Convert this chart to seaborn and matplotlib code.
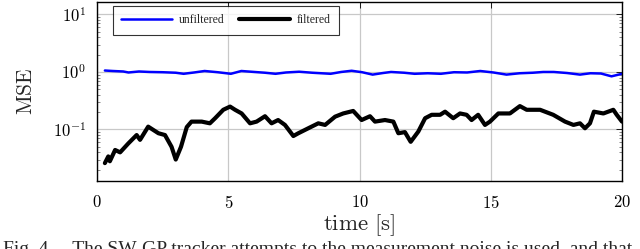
import numpy as np
import pandas as pd
import seaborn as sns
import matplotlib
matplotlib.use("Agg")
import matplotlib.pyplot as plt
from matplotlib.ticker import FixedLocator, LogLocator, NullFormatter, FuncFormatter

# ---- data ----
t_unf = [0.3, 0.6, 1.0, 1.2, 1.6, 2.0, 2.5, 3.0, 3.3, 3.7, 4.1, 4.6, 5.1, 5.5, 6.0, 6.4,
         6.8, 7.2, 7.7, 8.2, 8.9, 9.3, 9.7, 10.1, 10.5, 10.9, 11.2, 11.7, 12.1, 12.6, 13.1,
         13.6, 14.1, 14.6, 15.1, 15.6, 16.1, 16.6, 17.0, 17.4, 17.9, 18.4, 18.8, 19.2, 19.6, 20.0]
mse_unf = [1.06, 1.04, 1.02, 0.98, 1.02, 1.00, 0.99, 0.97, 0.93, 0.98, 1.04, 0.99, 0.93, 1.04,
           1.00, 0.97, 0.93, 0.98, 1.01, 0.97, 0.93, 1.00, 1.05, 0.99, 0.90, 0.96, 1.00, 0.97,
           0.93, 0.95, 0.93, 0.99, 0.98, 1.04, 0.98, 0.90, 0.95, 0.97, 1.00, 1.00, 0.96, 0.90,
           0.95, 0.94, 0.84, 0.93]

t_filt = [0.30, 0.43, 0.49, 0.69, 0.88, 1.19, 1.51, 1.64, 1.95, 2.34, 2.59, 2.84, 3.00, 3.20,
          3.42, 3.60, 3.99, 4.30, 4.50, 4.81, 5.07, 5.26, 5.51, 5.83, 6.08, 6.40, 6.65, 6.90,
          7.16, 7.48, 7.67, 8.05, 8.43, 8.69, 9.07, 9.38, 9.76, 10.08, 10.40, 10.59, 10.97,
          11.29, 11.48, 11.73, 11.95, 12.24, 12.50, 12.75, 13.07, 13.26, 13.57, 13.83, 14.08,
          14.27, 14.52, 14.78, 14.97, 15.29, 15.73, 16.11, 16.37, 16.88, 17.38, 17.83, 18.15,
          18.40, 18.59, 18.78, 18.93, 19.29, 19.67, 19.80, 20.00]
mse_filt = [0.026, 0.034, 0.028, 0.044, 0.040, 0.057, 0.080, 0.066, 0.112, 0.086, 0.080, 0.050,
            0.030, 0.050, 0.110, 0.137, 0.137, 0.128, 0.157, 0.220, 0.250, 0.220, 0.190, 0.128,
            0.137, 0.170, 0.128, 0.146, 0.120, 0.077, 0.086, 0.105, 0.128, 0.120, 0.167, 0.190,
            0.210, 0.146, 0.170, 0.137, 0.146, 0.137, 0.086, 0.090, 0.061, 0.092, 0.157, 0.180,
            0.180, 0.204, 0.157, 0.190, 0.180, 0.146, 0.180, 0.120, 0.137, 0.190, 0.190, 0.255,
            0.220, 0.220, 0.180, 0.137, 0.120, 0.128, 0.105, 0.128, 0.204, 0.190, 0.220, 0.180,
            0.137]

x_ticks = [0, 5, 10, 15, 20]
y_ticks = [0.1, 1, 10]
series_names = ["unfiltered", "filtered"]
caption = "Fig. 4.    The SW-GP tracker attempts to the measurement noise is used, and that"

# ---- plotting ----
sns.set_theme(style="white")
plt.rcParams["mathtext.fontset"] = "cm"
plt.rcParams["font.family"] = ["Liberation Serif", "DejaVu Serif"]

df = pd.concat([
    pd.DataFrame({"t": t_unf, "mse": mse_unf, "series": series_names[0]}),
    pd.DataFrame({"t": t_filt, "mse": mse_filt, "series": series_names[1]}),
])

fig = plt.figure(figsize=(6.4, 2.49), dpi=100)
ax = fig.add_axes([97 / 640, 1 - 181 / 249, 525 / 640, 179 / 249])

sns.lineplot(data=df[df.series == "unfiltered"], x="t", y="mse", color="#0000ff",
             lw=1.8, ax=ax, label="unfiltered", estimator=None, sort=False)
sns.lineplot(data=df[df.series == "filtered"], x="t", y="mse", color="black",
             lw=3.0, ax=ax, label="filtered", estimator=None, sort=False)

ax.set_yscale("log")
ax.set_xlim(0, 20)
ax.set_ylim(10 ** -1.896, 10 ** 1.217)

ax.xaxis.set_major_locator(FixedLocator(x_ticks))
ax.xaxis.set_major_formatter(FuncFormatter(lambda v, p: r"$%d$" % v))
ax.yaxis.set_major_locator(FixedLocator(y_ticks))
ax.yaxis.set_major_formatter(FuncFormatter(lambda v, p: r"$10^{%d}$" % round(np.log10(v))))
ax.yaxis.set_minor_locator(LogLocator(base=10, subs=np.arange(2, 10)))
ax.yaxis.set_minor_formatter(NullFormatter())

ax.grid(True, which="major", color="#c8c8c8", lw=0.9)
ax.set_axisbelow(True)
ax.tick_params(axis="both", which="major", direction="in", length=4, width=0.6,
               top=True, right=True, labelsize=12, colors="black")
ax.tick_params(axis="x", which="major", pad=10)
ax.tick_params(axis="y", which="major", pad=8)
ax.tick_params(axis="y", which="minor", direction="in", length=2.5, width=0.5,
               left=True, right=True, color="#555555")
for s in ax.spines.values():
    s.set_color("black")
    s.set_linewidth(1.0)

ax.set_xlabel(r"$\mathrm{time\ [s]}$", fontsize=16.5, labelpad=0.5)
ax.set_ylabel(r"$\mathrm{MSE}$", fontsize=15.5, labelpad=11)

leg = ax.legend(loc="upper left", bbox_to_anchor=(16 / 525, 1 - 4 / 179), ncol=2,
                fontsize=8.5, frameon=True, fancybox=False, edgecolor="black",
                handlelength=4.3, columnspacing=1.2, handletextpad=0.6,
                borderpad=0.7, borderaxespad=0)
leg.get_frame().set_linewidth(0.8)

fig.text(3 / 640, -5 / 249, caption, fontsize=14, ha="left", va="baseline",
         family=["Liberation Serif"])

fig.savefig("out.png", dpi=100)
